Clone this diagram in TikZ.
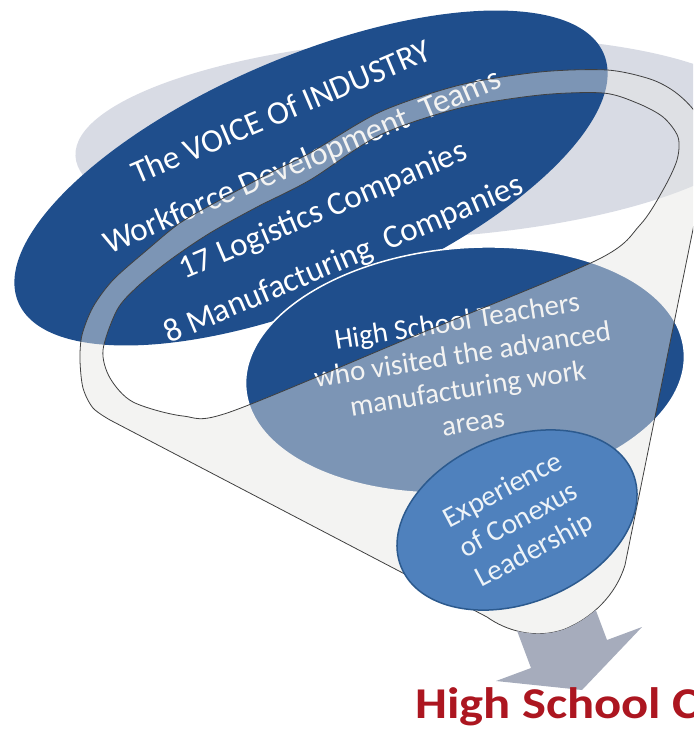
\documentclass[tikz,border=0pt]{standalone}
\usepackage{fontspec}
\setmainfont{Carlito}
\usetikzlibrary{shapes.geometric}

\definecolor{voiceblue}{RGB}{31,78,140}
\definecolor{haze}{RGB}{216,219,228}
\definecolor{wallgray}{RGB}{230,230,228}
\definecolor{leadblue}{RGB}{79,129,189}
\definecolor{leadedge}{RGB}{44,90,142}
\definecolor{flowgray}{RGB}{166,172,188}
\definecolor{schoolred}{RGB}{172,22,32}

% outline of the funnel body and of its mouth
\newcommand{\funnelside}{(110,-420) -- (487,-617)
  .. controls (505,-630) and (535,-640) .. (565,-629)
  .. controls (592,-618) and (616,-595) .. (625,-565) -- (704,-175)
  -- plot[smooth] coordinates {(704,-175) (705,-140) (695,-112) (675,-92) (650,-79)
     (607,-70) (540,-72) (460,-85) (380,-112) (310,-153) (270,-173) (220,-200)
     (180,-223) (147,-250) (113,-280) (93,-307) (82,-335) (80,-360) (83,-388)
     (93,-408) (110,-420)} -- cycle}
\newcommand{\funnelmouth}{plot[smooth cycle] coordinates {(103,-350) (117,-310)
     (137,-287) (170,-260) (210,-233) (257,-207) (310,-180) (380,-135) (460,-108)
     (540,-95) (603,-93) (637,-103) (663,-117) (678,-137) (677,-160) (663,-190)
     (640,-225) (597,-260) (414,-336) (230,-412) (183,-416) (133,-402) (110,-378)}}

\begin{document}
\begin{tikzpicture}[x=1pt, y=1pt,
    backdrop/.style={ellipse, fill=haze, inner sep=0pt},
    disc/.style={ellipse, fill=voiceblue, inner sep=0pt},
    lbl/.style={align=center, text=white, inner sep=0pt},
    wall/.style={fill=wallgray, fill opacity=0.47, even odd rule},
    rim/.style={draw=black!75, line width=0.8pt},
    flow/.style={fill=flowgray}
]
\useasboundingbox (0,0) rectangle (693,-735);
\clip (0,0) rectangle (693,-735);

\node[backdrop, minimum width=690pt, minimum height=200pt, rotate=3] (haze) at (420,-138) {};

\node[disc, minimum width=636pt, minimum height=244pt, rotate=23] (voice) at (311,-178) {};
\node[lbl, rotate=23, font=\fontsize{33}{53}\selectfont] (voicelines) at (313,-187)
  {The VOICE Of INDUSTRY\\Workforce Development\ \ Teams\\17 Logistics Companies\\8 Manufacturing\ \ Companies};

\node[disc, draw=white, line width=1.5pt, minimum width=440pt, minimum height=244pt, rotate=5] (teachers) at (465,-370) {};
\node[lbl, rotate=9, font=\fontsize{29}{34}\selectfont] (teacherlines) at (465,-371)
  {High School Teachers\\who visited the advanced\\manufacturing work\\areas};

\fill[wall] \funnelside \funnelmouth;
\draw[rim] \funnelside;
\draw[rim] \funnelmouth;

\begin{scope}[even odd rule]
\clip (0,0) rectangle (693,-735) \funnelside;
\fill[flow] (510,-612) -- (531,-668) -- (496,-681) -- (582,-690) -- (642,-627) -- (607,-640) -- (586,-584) -- cycle;
\end{scope}

\node[ellipse, fill=leadblue, draw=leadedge, line width=1.5pt, inner sep=0pt,
  minimum width=250pt, minimum height=166pt, rotate=22] (leaders) at (517,-520) {};
\node[lbl, rotate=28, text=white!90!leadblue, font=\fontsize{29}{34}\selectfont] (leaderlines) at (519,-521)
  {Experience\\of Conexus\\Leadership};

\node[anchor=base west, inner sep=0pt, xscale=1.15, text=schoolred, font=\fontsize{44}{50}\selectfont\bfseries] (banner) at (415,-718) {High School C};
\end{tikzpicture}
\end{document}
